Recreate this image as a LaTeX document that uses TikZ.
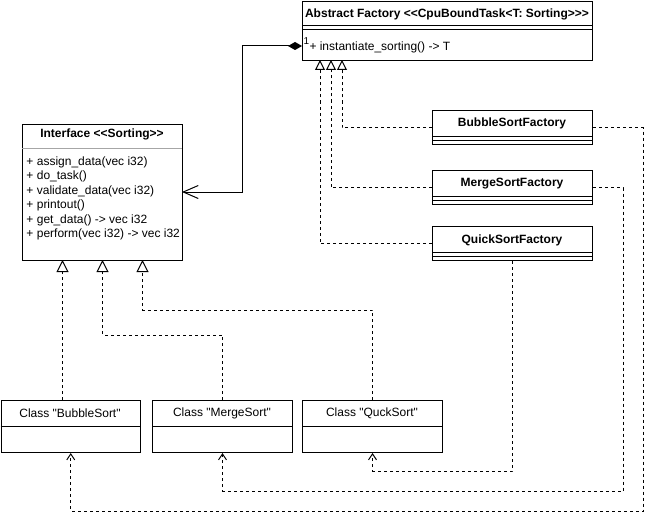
\documentclass[tikz,border=0pt]{standalone}
\usepackage{fontspec}
\setmainfont{Liberation Sans}[Ligatures=TeXOff]
\usetikzlibrary{arrows.meta,calc}
\begin{document}
\begin{tikzpicture}[x=1pt,y=-1pt,line width=1pt,
  box/.style={draw,fill=white,anchor=north west,inner sep=0pt},
  ttl/.style={font=\fontsize{12}{14}\selectfont\bfseries,inner sep=0pt},
  txt/.style={font=\fontsize{12}{14}\selectfont,inner sep=0pt},
  mth/.style={font=\fontsize{12}{14}\selectfont,inner sep=0pt,anchor=west},
  dsh/.style={dash pattern=on 3pt off 3pt},
  real/.style={dsh,-{Triangle[open,length=10pt,width=10pt,fill=white]}},
  gen/.style={dsh,-{Triangle[open,length=12pt,width=12pt,fill=white]}},
  use/.style={dsh,-{Straight Barb[length=6pt,width=8pt]}}]
\useasboundingbox (0,0) rectangle (651,519);

% Abstract factory
\node[box,minimum width=290pt,minimum height=59pt] (af) at (302,1) {};
\draw (302,26) -- (592,26);
\draw (302,30) -- (592,30);
\node[ttl] (aft) at (447,14) {Abstract Factory <<CpuBoundTask<T: Sorting>>>};
\node[mth] (afm) at (309,47.5) {+ instantiate\_sorting() -> T};
\node[txt,font=\fontsize{10}{12}\selectfont] (one) at (306.5,41) {1};

% Interface
\node[box,minimum width=160pt,minimum height=136pt] (if) at (22,124) {};
\draw[gray!70] (22,148) -- (182,148);
\node[ttl] (ift) at (102,134.5) {Interface <<Sorting>>};
\node[mth] (m1) at (26,162) {+ assign\_data(vec i32)};
\node[mth] (m2) at (26,176.5) {+ do\_task()};
\node[mth] (m3) at (26,191) {+ validate\_data(vec i32)};
\node[mth] (m4) at (26,205.5) {+ printout()};
\node[mth] (m5) at (26,220) {+ get\_data() -> vec i32};
\node[mth] (m6) at (26,234.5) {+ perform(vec i32) -> vec i32};

% Factories
\node[box,minimum width=160pt,minimum height=34pt] (bsf) at (432,110) {};
\draw (432,136) -- (592,136); \draw (432,140) -- (592,140);
\node[ttl] at (512,123.5) {BubbleSortFactory};
\node[box,minimum width=160pt,minimum height=34pt] (msf) at (432,170) {};
\draw (432,196) -- (592,196); \draw (432,200) -- (592,200);
\node[ttl] at (512,184) {MergeSortFactory};
\node[box,minimum width=160pt,minimum height=34pt] (qsf) at (432,226) {};
\draw (432,252) -- (592,252); \draw (432,256) -- (592,256);
\node[ttl] at (512,240) {QuickSortFactory};

% Classes
\node[box,minimum width=139.5pt,minimum height=52pt] (bs) at (0.5,400) {};
\draw (0.5,426.5) -- (140,426.5);
\node[txt] at (70,413) {Class "BubbleSort"};
\node[box,minimum width=140pt,minimum height=52pt] (ms) at (152,400) {};
\draw (152,426.5) -- (292,426.5);
\node[txt] at (222,413) {Class "MergeSort"};
\node[box,minimum width=140pt,minimum height=52pt] (qs) at (302,400) {};
\draw (302,426.5) -- (442,426.5);
\node[txt] at (372,413) {Class "QuckSort"};

% attachment points
\coordinate (afL) at (302,46);
\coordinate (c1) at (242,46);
\coordinate (ifR) at (182,192);
\coordinate (afB1) at (320,60);
\coordinate (afB2) at (331,60);
\coordinate (afB3) at (342,60);
\coordinate (ifB1) at (62.5,260);
\coordinate (ifB2) at (102.5,260);
\coordinate (ifB3) at (142.5,260);

% composition
\draw[{Diamond[fill=black,length=14pt,width=8pt]}-{Straight Barb[length=15pt,width=13pt]}]
  (afL) -- (c1) |- (ifR);

% realizations of abstract factory
\draw[real] (bsf.west) -| (afB3);
\draw[real] (msf.west) -| (afB2);
\draw[real] (qsf.west) -| (afB1);

% generalizations of interface
\draw[gen] (ifB1 |- bs.north) -- (ifB1);
\draw[gen] (ms.north) -- ++(0,-65) -| (ifB2);
\draw[gen] (qs.north) -- ++(0,-90) -| (ifB3);

% dependencies
\draw[use] (bsf.east) -- ++(50,0) |- ($(bs.south)+(0,58)$) -- (bs.south);
\draw[use] (msf.east) -- ++(30,0) |- ($(ms.south)+(0,38)$) -- (ms.south);
\draw[use] (qsf.south) |- ($(qs.south)+(0,18)$) -- (qs.south);
\end{tikzpicture}
\end{document}
